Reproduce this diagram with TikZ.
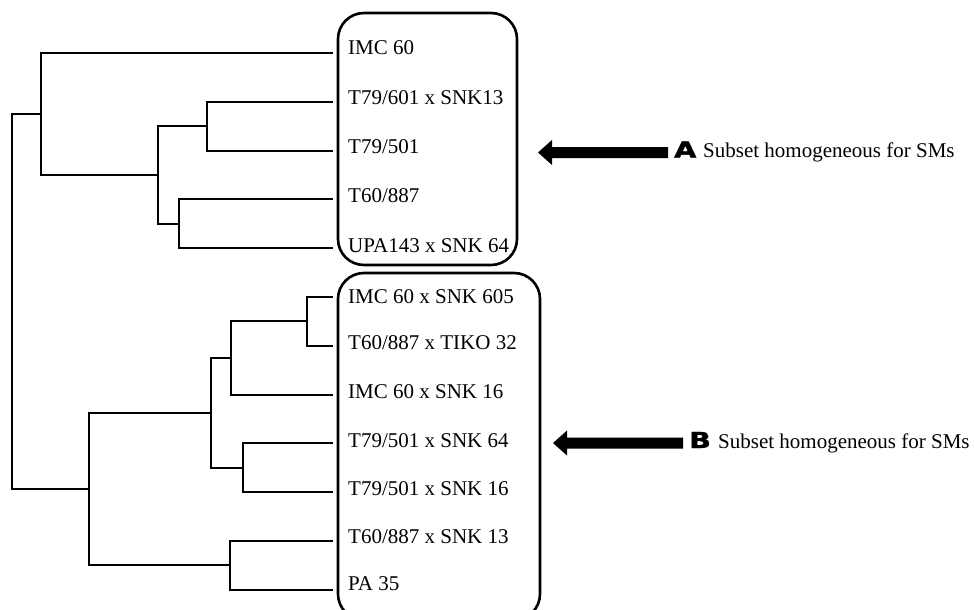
\documentclass[tikz,border=0pt]{standalone}
\usepackage{fontspec}
\usepackage{graphicx}
\setmainfont{Liberation Serif}
\newfontfamily\blkfont{DejaVu Sans Bold}[FakeBold=1.6]
\begin{document}
\begin{tikzpicture}[x=1pt,y=-1pt,
  branch/.style={line width=1.9pt, line cap=rect},
  leaf/.style={anchor=base west, inner sep=0pt, font=\fontsize{21}{21}\selectfont},
  groupbox/.style={line width=2.6pt, rounded corners=26pt},
  bigarrow/.style={fill=black},
  letter/.style={anchor=base west, inner sep=0pt},
  note/.style={anchor=base west, inner sep=0pt, font=\fontsize{21}{21}\selectfont}]
\useasboundingbox (0,0) rectangle (974,610);
% leaf ends
\coordinate (l1) at (332,53);
\coordinate (l2) at (332,101.8);
\coordinate (l3) at (332,150.6);
\coordinate (l4) at (332,199.4);
\coordinate (l5) at (332,248.2);
\coordinate (l6) at (332,297);
\coordinate (l7) at (332,345.8);
\coordinate (l8) at (332,394.6);
\coordinate (l9) at (332,443.4);
\coordinate (l10) at (332,492.2);
\coordinate (l11) at (332,541);
\coordinate (l12) at (332,589.8);
% internal nodes
\coordinate (c) at (207,126.2);
\coordinate (d) at (179,223.8);
\coordinate (b) at (158,175);
\coordinate (a) at (41,114);
\coordinate (h) at (307,321.4);
\coordinate (g) at (231,358);
\coordinate (i) at (243,467.8);
\coordinate (f) at (211,412.9);
\coordinate (j) at (230,565.4);
\coordinate (e) at (89,489.2);
\coordinate (r) at (12,300);
% tree
\draw[branch] (r) |- (a);
\draw[branch] (r) |- (e);
\draw[branch] (a) |- (l1);
\draw[branch] (a) |- (b);
\draw[branch] (b) |- (c);
\draw[branch] (b) |- (d);
\draw[branch] (c) |- (l2);
\draw[branch] (c) |- (l3);
\draw[branch] (d) |- (l4);
\draw[branch] (d) |- (l5);
\draw[branch] (e) |- (f);
\draw[branch] (e) |- (j);
\draw[branch] (f) |- (g);
\draw[branch] (f) |- (i);
\draw[branch] (g) |- (h);
\draw[branch] (g) |- (l8);
\draw[branch] (h) |- (l6);
\draw[branch] (h) |- (l7);
\draw[branch] (i) |- (l9);
\draw[branch] (i) |- (l10);
\draw[branch] (j) |- (l11);
\draw[branch] (j) |- (l12);
% boxes
\draw[groupbox] (338,13) rectangle (517,265);
\draw[groupbox] (338,273) rectangle (540,620);
% labels
\node[leaf] (t1) at (348,55) {IMC 60};
\node[leaf] (t2) at (348,104.5) {T79/601 x SNK13};
\node[leaf] (t3) at (348,153.5) {T79/501};
\node[leaf] (t4) at (348,202.5) {T60/887};
\node[leaf] (t5) at (348,252) {UPA143 x SNK 64};
\node[leaf] (t6) at (348,303) {IMC 60 x SNK 605};
\node[leaf] (t7) at (348,349) {T60/887 x TIKO 32};
\node[leaf] (t8) at (348,398) {IMC 60 x SNK 16};
\node[leaf] (t9) at (348,447) {T79/501 x SNK 64};
\node[leaf] (t10) at (348,495) {T79/501 x SNK 16};
\node[leaf] (t11) at (348,543) {T60/887 x SNK 13};
\node[leaf] (t12) at (348,590) {PA 35};
% arrow A
\fill[bigarrow] (538,152.5) -- (552,140) -- (552,147) -- (668,147) -- (668,158) -- (552,158) -- (552,165) -- cycle;
\node[letter] (la) at (674,157.5) {\scalebox{1.3}[1]{\blkfont\fontsize{22}{22}\selectfont A}};
\node[note] (na) at (703,157.5) {Subset homogeneous for SMs};
% arrow B
\fill[bigarrow] (553,443) -- (567,430.5) -- (567,437.5) -- (683,437.5) -- (683,448.5) -- (567,448.5) -- (567,455.5) -- cycle;
\node[letter] (lb) at (689,448) {\scalebox{1.3}[1]{\blkfont\fontsize{22}{22}\selectfont B}};
\node[note] (nb) at (718,448) {Subset homogeneous for SMs};
\end{tikzpicture}
\end{document}
